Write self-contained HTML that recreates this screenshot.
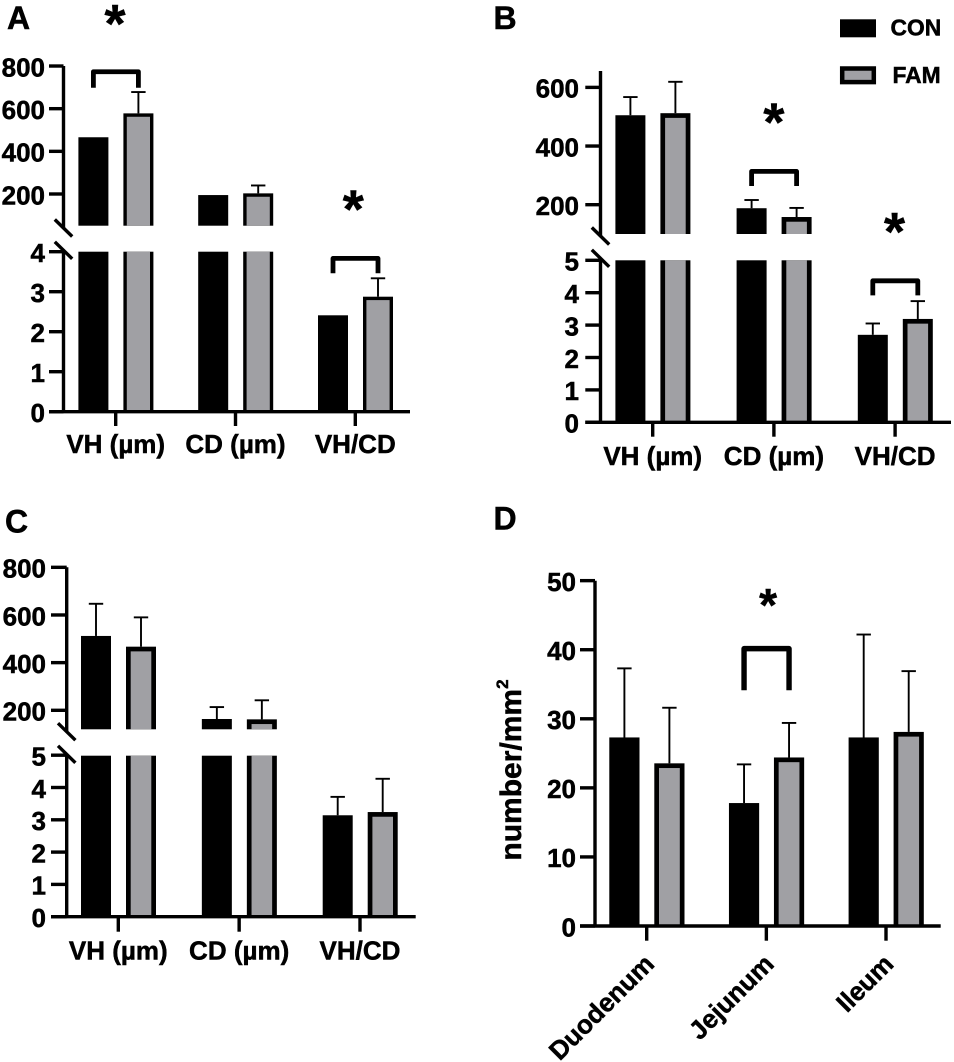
<!DOCTYPE html>
<html lang="en">
<head>
<meta charset="utf-8">
<title>Intestinal morphology bar charts</title>
<style>
html,body{margin:0;padding:0;background:#fff;}
svg{display:block;font-family:"Liberation Sans",Arial,sans-serif;font-weight:bold;fill:#000;}
svg text{stroke:#000;stroke-width:0.5px;}
</style>
</head>
<body>
<svg id="figure" xmlns="http://www.w3.org/2000/svg" width="954" height="1062" viewBox="0 0 954 1062">
  <rect x="0" y="0" width="954" height="1062" fill="#fff"/>
  <text x="7" y="29" font-size="32">A</text>
  <text x="493.5" y="29" font-size="32">B</text>
  <text x="5" y="532.5" font-size="32">C</text>
  <text x="493.5" y="529.3" font-size="32">D</text>
  <g>
    <rect x="840" y="19.3" width="36" height="18" fill="#000"/>
    <text x="890.5" y="35.7" font-size="22.8">CON</text>
    <rect x="842.2" y="68.5" width="31.6" height="13.6" fill="#a0a0a4" stroke="#000" stroke-width="4.5"/>
    <text x="892.5" y="83" font-size="22.8">FAM</text>
  </g>
</svg>
<script>
const morphologyGroups = ["VH (µm)", "CD (µm)", "VH/CD"];
const segmentGroups = ["Duodenum", "Jejunum", "Ileum"];

const upperTicksA = [200, 400, 600, 800];
const lowerTicksA = [0, 1, 2, 3, 4];
const conMeansA = [466, 195, 2.41];
const conErrorsA = [0, 0, 0];
const famMeansA = [578, 203, 2.875];
const famErrorsA = [100, 37, 0.46];

const upperTicksB = [200, 400, 600];
const lowerTicksB = [0, 1, 2, 3, 4, 5];
const conMeansB = [505, 188, 2.7];
const conErrorsB = [62, 28, 0.35];
const famMeansB = [512, 158, 3.19];
const famErrorsB = [107, 31, 0.55];

const upperTicksC = [200, 400, 600, 800];
const lowerTicksC = [0, 1, 2, 3, 4, 5];
const conMeansC = [512, 163.5, 3.14];
const conErrorsC = [135, 50, 0.57];
const famMeansC = [467, 162, 3.24];
const famErrorsC = [123, 80, 1.03];

const ticksD = [0, 10, 20, 30, 40, 50];
const conMeansD = [27.3, 17.8, 27.3];
const conErrorsD = [10, 5.6, 14.9];
const famMeansD = [23.55, 24.4, 28.1];
const famErrorsD = [8.05, 5, 8.8];

const svg = document.getElementById('figure');
const NS = 'http://www.w3.org/2000/svg';

function mk(parent, tag, attrs, name) {
  const el = document.createElementNS(NS, tag);
  for (const k in attrs) el.setAttribute(k, attrs[k]);
  
  
  parent.appendChild(el);
  return el;
}
function line(parent, x1, y1, x2, y2, w, name) {
  return mk(parent, 'line', {x1, y1, x2, y2, stroke: '#000', 'stroke-width': w}, name);
}
function slug(s) {
  return String(s).toLowerCase().replace(/[^a-z0-9]+/g, '-').replace(/^-|-$/g, '');
}

function drawPanel(p) {
  const g = mk(svg, 'g', {}, p.name);
  const lowerY = v => p.zeroY - v * p.lowerPx;
  const upperY = v => p.refY - (v - p.refValue) * p.upperPx;
  const broken = !!p.upperPx;
  const y = v => (broken && v > p.lowerMax) ? upperY(v) : lowerY(v);
  const tickX = i => p.firstTick + i * p.spacing;

  /* error bars sit behind bars */
  function errorBar(cx, mean, err, id) {
    if (!err) return;
    const top = y(mean + err);
    line(g, cx, y(mean), cx, top, 1.9, 'error-stem-' + id);
    line(g, cx - 7.2, top, cx + 7.2, top, 1.9, 'error-cap-' + id);
  }
  function column(cx, mean, fam, id) {
    const x = cx - p.barW / 2;
    const segs = [];
    if (broken && mean > p.lowerMax) {
      segs.push([y(mean), p.breakBottom, true]);
      segs.push([p.breakTop, p.zeroY, false]);
    } else {
      segs.push([y(mean), p.zeroY, true]);
    }
    segs.forEach((s, n) => {
      mk(g, 'rect', {x, y: s[0], width: p.barW, height: s[1] - s[0], fill: '#000'}, 'bar-' + id + '-seg' + n);
      if (fam) {
        const t = s[2] ? s[0] + p.border : s[0];
        mk(g, 'rect', {x: x + p.border, y: t, width: p.barW - 2 * p.border, height: Math.max(0, s[1] - t), fill: '#a0a0a4'}, 'bar-fill-' + id + '-seg' + n);
      }
    });
  }

  p.groups.forEach((label, i) => {
    const id = slug(label);
    const cc = tickX(i) - 22.3, fc = tickX(i) + 22.7;
    errorBar(cc, p.con[i], p.conErr[i], 'con-' + id);
    errorBar(fc, p.fam[i], p.famErr[i], 'fam-' + id);
    column(cc, p.con[i], false, 'con-' + id);
    column(fc, p.fam[i], true, 'fam-' + id);
    line(g, tickX(i), p.zeroY, tickX(i), p.tickBottom, 3.4, 'x-tick-' + id);
    if (p.rotate) {
      const ax = tickX(i) + p.labelDx, ay = p.labelY;
      const t = mk(g, 'text', {x: ax, y: ay, 'font-size': p.labelSize, 'text-anchor': 'end', transform: 'rotate(-45 ' + ax + ' ' + ay + ')'}, 'x-label-' + id);
      t.textContent = label;
    } else {
      const t = mk(g, 'text', {x: tickX(i), y: p.labelY, 'font-size': p.labelSize, 'text-anchor': 'middle'}, 'x-label-' + id);
      t.textContent = label;
    }
  });

  /* axes */
  line(g, p.axisLeft, p.zeroY, p.axisRight, p.zeroY, 3.4, 'x-axis');
  if (broken) {
    line(g, p.axisX, p.axisTop, p.axisX, p.gapTop, 3.4, 'y-axis-upper');
    line(g, p.axisX, p.gapBottom, p.axisX, p.zeroY, 3.4, 'y-axis-lower');
    [p.gapTop, p.gapBottom].forEach((cy, n) => {
      line(g, p.axisX - 8.7, cy - 8.5, p.axisX + 8.7, cy + 8.5, 3.4, 'axis-break-mark-' + (n + 1));
    });
  } else {
    line(g, p.axisX, p.axisTop, p.axisX, p.zeroY, 3.4, 'y-axis');
  }
  function yTick(v, py) {
    line(g, p.axisLeft, py, p.axisX, py, 3.4, 'y-tick-' + v);
    const t = mk(g, 'text', {x: p.tickLabelX, y: py + 10.3, 'font-size': 26, 'text-anchor': 'end'}, 'y-tick-label-' + v);
    t.textContent = v;
  }
  p.lowerTicks.forEach(v => yTick(v, lowerY(v)));
  if (broken) p.upperTicks.forEach(v => yTick(v, upperY(v)));

  /* significance brackets */
  p.sig.forEach(s => {
    const i = s.group;
    const errTop = Math.min(y(p.con[i] + p.conErr[i]), y(p.fam[i] + p.famErr[i]));
    const bottom = errTop - s.gap, top = bottom - s.height;
    const x1 = tickX(i) - 22.3, x2 = tickX(i) + 22.7;
    const w = s.stroke;
    mk(g, 'path', {d: 'M' + x1 + ' ' + bottom + 'V' + (top + w / 2) + 'H' + x2 + 'V' + bottom, fill: 'none', stroke: '#000', 'stroke-width': w, 'stroke-linejoin': 'round'}, 'significance-bracket-' + i);
    const st = mk(g, 'text', {x: tickX(i) + s.starDx, y: top - s.starRise + 0.55 * s.starSize, 'font-size': s.starSize, 'text-anchor': 'middle'}, 'significance-star-' + i);
    st.textContent = '*';
  });
}

drawPanel({
  name: 'panel-a', groups: morphologyGroups,
  con: conMeansA, conErr: conErrorsA, fam: famMeansA, famErr: famErrorsA,
  lowerTicks: lowerTicksA, upperTicks: upperTicksA, lowerMax: 10,
  zeroY: 411.7, lowerPx: 40, refValue: 200, refY: 194, upperPx: 0.2133,
  breakBottom: 225.7, breakTop: 251.7, gapTop: 228, gapBottom: 250.3,
  axisX: 63.5, axisTop: 66, axisLeft: 49, axisRight: 410, tickLabelX: 45,
  firstTick: 115.7, spacing: 119.8, barW: 30, border: 3.4,
  tickBottom: 426, labelY: 453, labelSize: 26,
  sig: [
    {group: 0, gap: 4.3, height: 18.4, stroke: 4.8, starDx: -0.7, starRise: 57, starSize: 54},
    {group: 2, gap: 5, height: 17.3, stroke: 4.8, starDx: -2, starRise: 58, starSize: 54}
  ]
});

drawPanel({
  name: 'panel-b', groups: morphologyGroups,
  con: conMeansB, conErr: conErrorsB, fam: famMeansB, famErr: famErrorsB,
  lowerTicks: lowerTicksB, upperTicks: upperTicksB, lowerMax: 10,
  zeroY: 422.3, lowerPx: 32.4, refValue: 200, refY: 204.7, upperPx: 0.2933,
  breakBottom: 234, breakTop: 260.3, gapTop: 236, gapBottom: 258.3,
  axisX: 600.5, axisTop: 71, axisLeft: 585.3, axisRight: 951, tickLabelX: 579,
  firstTick: 652.7, spacing: 121.2, barW: 30, border: 4.7,
  tickBottom: 436.7, labelY: 465, labelSize: 26,
  sig: [
    {group: 1, gap: 14, height: 17, stroke: 4.8, starDx: 0, starRise: 58, starSize: 54},
    {group: 2, gap: 5.7, height: 17, stroke: 4.8, starDx: -0.6, starRise: 58, starSize: 54}
  ]
});

drawPanel({
  name: 'panel-c', groups: morphologyGroups,
  con: conMeansC, conErr: conErrorsC, fam: famMeansC, famErr: famErrorsC,
  lowerTicks: lowerTicksC, upperTicks: upperTicksC, lowerMax: 10,
  zeroY: 916.7, lowerPx: 32.3, refValue: 200, refY: 710.3, upperPx: 0.2383,
  breakBottom: 729.3, breakTop: 755.7, gapTop: 731.7, gapBottom: 754.3,
  axisX: 66.7, axisTop: 567.3, axisLeft: 51, axisRight: 415.7, tickLabelX: 46,
  firstTick: 118.3, spacing: 120.85, barW: 30, border: 4.7,
  tickBottom: 931.7, labelY: 959.3, labelSize: 26,
  sig: []
});

drawPanel({
  name: 'panel-d', groups: segmentGroups,
  con: conMeansD, conErr: conErrorsD, fam: famMeansD, famErr: famErrorsD,
  lowerTicks: ticksD, lowerMax: 1000,
  zeroY: 926, lowerPx: 6.907,
  axisX: 595, axisTop: 580.7, axisLeft: 580, axisRight: 940.7, tickLabelX: 576,
  firstTick: 646.7, spacing: 119.65, barW: 30.2, border: 4.7,
  tickBottom: 940.7, labelY: 965.5, labelDx: 9, labelSize: 26, rotate: true,
  sig: [
    {group: 1, gap: 32.7, height: 44.3, stroke: 5.4, starDx: 1.7, starRise: 50, starSize: 46}
  ]
});

const yTitle = mk(svg, 'text', {x: 521, y: 770, 'font-size': 30, 'text-anchor': 'middle', transform: 'rotate(-90 521 770)'}, 'y-axis-title');
yTitle.textContent = 'number/mm';
const ySup = mk(yTitle, 'tspan', {dy: -13, 'font-size': 17}, 'y-axis-title-superscript');
ySup.textContent = '2';
</script>
</body>
</html>
